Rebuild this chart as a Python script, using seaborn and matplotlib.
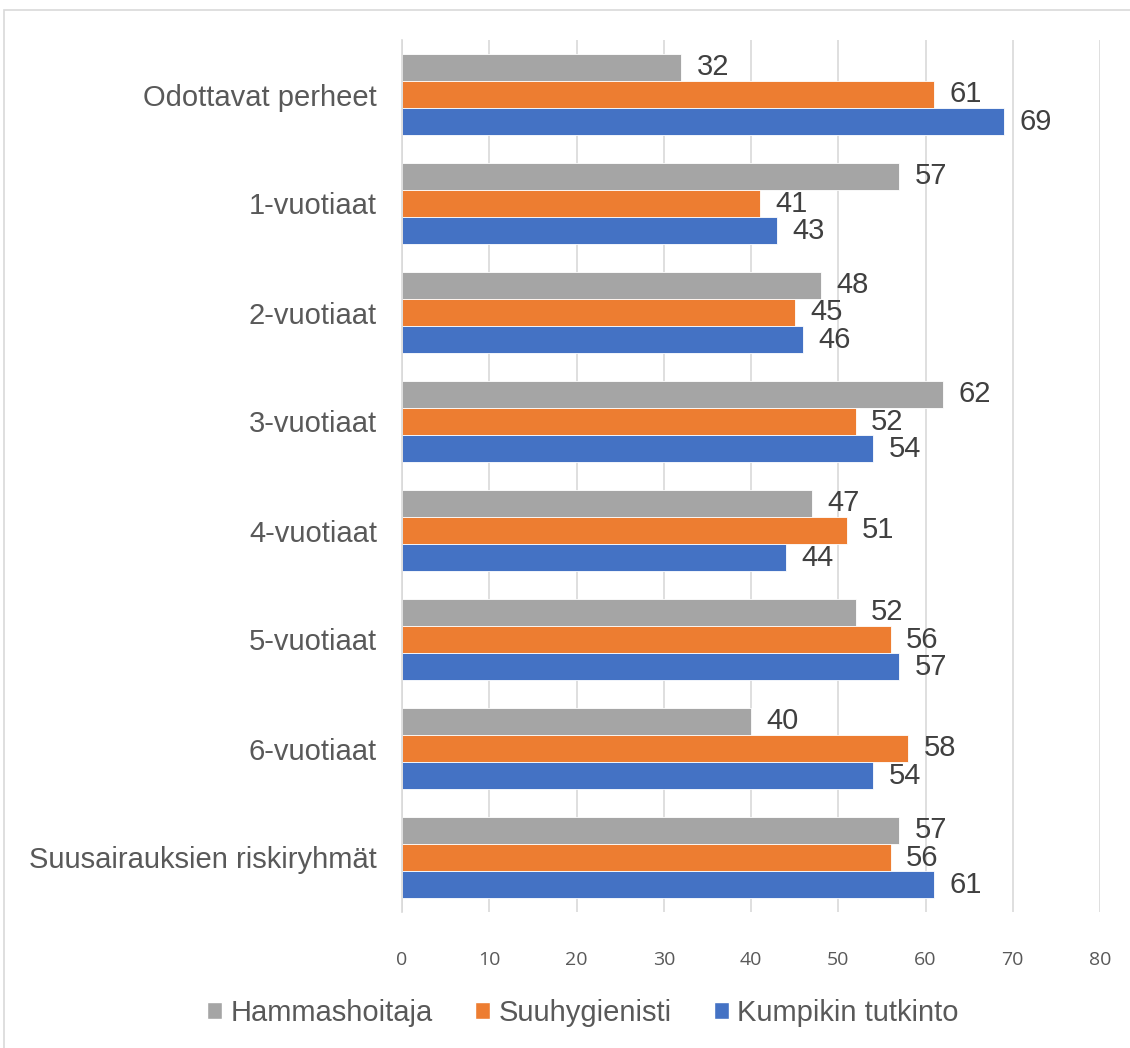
import matplotlib
matplotlib.use("Agg")
import matplotlib.pyplot as plt
import seaborn as sns
import pandas as pd
from matplotlib.patches import Rectangle

categories = ["Odottavat perheet", "1-vuotiaat", "2-vuotiaat", "3-vuotiaat",
              "4-vuotiaat", "5-vuotiaat", "6-vuotiaat", "Suusairauksien riskiryhmät"]
series = ["Hammashoitaja", "Suuhygienisti", "Kumpikin tutkinto"]
hammashoitaja = [32, 57, 48, 62, 47, 52, 40, 57]
suuhygienisti = [61, 41, 45, 52, 51, 56, 58, 56]
kumpikin = [69, 43, 46, 54, 44, 57, 54, 61]
colors = ["#A5A5A5", "#ED7D31", "#4472C4"]
x_ticks = [0, 10, 20, 30, 40, 50, 60, 70, 80]

rows = []
for s, vals in zip(series, [hammashoitaja, suuhygienisti, kumpikin]):
    for c, v in zip(categories, vals):
        rows.append({"Kategoria": c, "Sarja": s, "Arvo": v})
df = pd.DataFrame(rows)

sns.set_theme(style="white")
plt.rcParams['font.family'] = ['Liberation Sans', 'DejaVu Sans']

fig = plt.figure(figsize=(11.3, 10.48), dpi=100)
ax = fig.add_axes([402/1130, 1 - 912/1048, (1100-402)/1130, (912-40)/1048])

sns.barplot(data=df, y="Kategoria", x="Arvo", hue="Sarja", order=categories,
            hue_order=series, palette=colors, orient="h", width=0.75,
            saturation=1, ax=ax, legend=True, edgecolor="white", linewidth=0.6)

for cont in ax.containers:
    ax.bar_label(cont, padding=11, fontsize=21, color="#404040")

ax.set_xlim(0, 80)
ax.set_xticks(x_ticks)
ax.set_xticklabels([str(t) for t in x_ticks], fontsize=14, color="#595959",
                   family=['Open Sans', 'DejaVu Sans'])
ax.tick_params(axis='x', length=0, pad=28)
ax.tick_params(axis='y', length=0, pad=18, labelsize=21, labelcolor="#595959")
ax.set_xlabel("")
ax.set_ylabel("")
ax.grid(axis='x', color="#D9D9D9", linewidth=1.2)
ax.set_axisbelow(True)
for side in ["top", "right", "bottom"]:
    ax.spines[side].set_visible(False)
ax.spines["left"].set_color("#D9D9D9")
ax.spines["left"].set_linewidth(1.2)

ax.legend_.remove()
handles = [Rectangle((0, 0), 1, 1, facecolor=c) for c in colors]
fig.legend(handles, series, loc="center", bbox_to_anchor=(0.516, 1 - 1013/1048),
           ncol=3, frameon=False, fontsize=21, labelcolor="#595959",
           handlelength=0.5, handleheight=0.5, handletextpad=0.3, columnspacing=1.45)

fig.patches.append(Rectangle((4/1130, -0.1), 2.0, 1 - 10/1048 + 0.1,
                             transform=fig.transFigure, fill=False,
                             edgecolor="#D9D9D9", linewidth=1.2))

fig.savefig("out.png", dpi=100)
